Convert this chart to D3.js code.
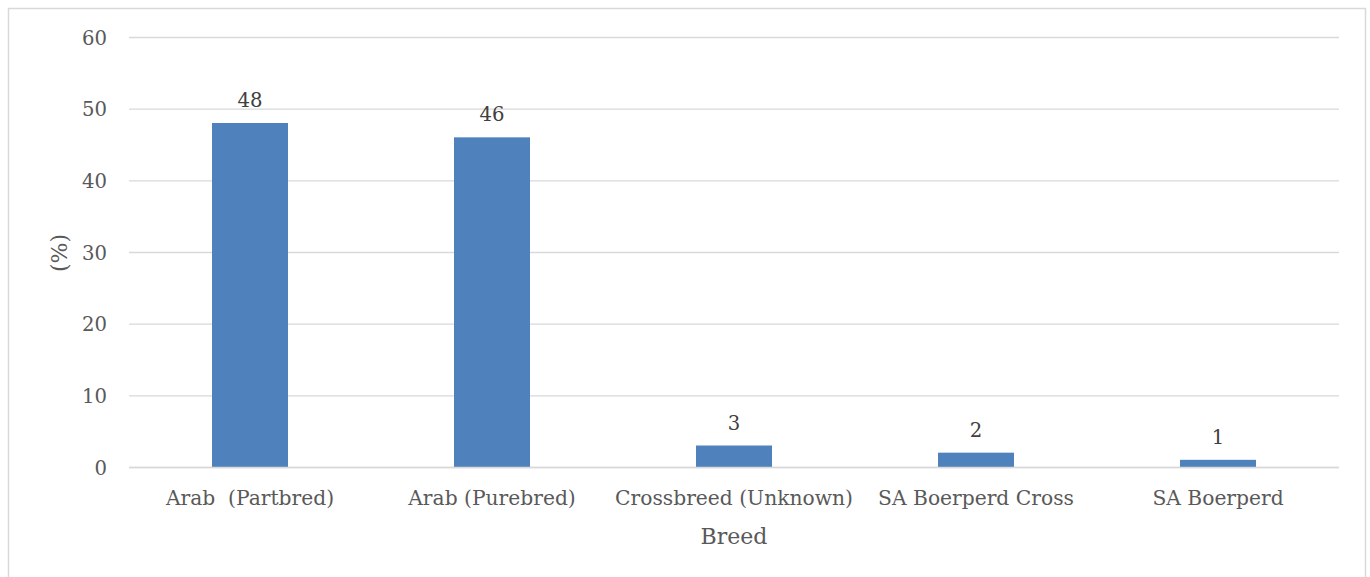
<!DOCTYPE html>
<html><head><meta charset="utf-8">
<script src="https://cdn.jsdelivr.net/npm/d3@7"></script>
<style>html,body{margin:0;padding:0;background:#fff;}svg{display:block;}</style>
</head><body>
<svg id="c" width="1370" height="577"></svg>
<script>
const categories = ["Arab  (Partbred)", "Arab (Purebred)", "Crossbreed (Unknown)", "SA Boerperd Cross", "SA Boerperd"];
const values = [48, 46, 3, 2, 1];
const yTicks = [0, 10, 20, 30, 40, 50, 60];
const xTitle = "Breed";
const yTitle = "(%)";

const W = 1370, H = 577;
const m = {left: 129, right: 1339, top: 37, bottom: 467};
const FONT = "'DejaVu Serif', 'Liberation Serif', serif";
const TXT = "#595959";
const svg = d3.select("#c");

svg.append("rect").attr("x", 8.5).attr("y", 8.5).attr("width", 1357).attr("height", 575)
  .attr("fill", "#fff").attr("stroke", "#d9d9d9").attr("stroke-width", 1.5);

const x = d3.scaleBand().domain(categories).range([m.left, m.right]).paddingInner(0.686).paddingOuter(0.343);
const y = d3.scaleLinear().domain([0, 60]).range([m.bottom, m.top]);

// fit helper: returns font size so that text has target width
function fitSize(text, target) {
  const t = svg.append("text").attr("font-family", FONT).attr("font-size", 20).text(text);
  const w = t.node().getComputedTextLength();
  t.remove();
  return 20 * target / w;
}
const catSize = fitSize("Crossbreed (Unknown)", 238);
const tickSize = fitSize("60", 25);
const valSize = fitSize("48", 25);
const titleSize = fitSize("Breed", 67);

// gridlines
const gy = svg.append("g").attr("transform", `translate(${m.left},0)`)
  .call(d3.axisLeft(y).tickValues(yTicks).tickSize(-(m.right - m.left)).tickFormat(""));
gy.select(".domain").remove();
gy.selectAll(".tick line").attr("stroke", "#d9d9d9").attr("stroke-width", 1.3);

// y tick labels
const yl = svg.append("g").attr("transform", `translate(107,0)`)
  .call(d3.axisLeft(y).tickValues(yTicks).tickSize(0).tickPadding(0));
yl.select(".domain").remove();
yl.selectAll(".tick text").attr("font-family", FONT).attr("font-size", tickSize).attr("fill", TXT).attr("dy", "0.36em");

// bars
svg.append("g").selectAll("rect").data(values).join("rect")
  .attr("x", (d, i) => x(categories[i]))
  .attr("width", x.bandwidth())
  .attr("y", d => y(d))
  .attr("height", d => y(0) - y(d))
  .attr("fill", "#4f81bd");

// axis baseline
svg.append("line").attr("x1", m.left).attr("x2", m.right).attr("y1", y(0) + 0.5).attr("y2", y(0) + 0.5)
  .attr("stroke", "#d9d9d9").attr("stroke-width", 1.5);

// value labels
svg.append("g").selectAll("text").data(values).join("text")
  .attr("x", (d, i) => x(categories[i]) + x.bandwidth() / 2)
  .attr("y", d => y(d) - 16)
  .attr("text-anchor", "middle").attr("font-family", FONT).attr("font-size", valSize).attr("fill", "#404040")
  .text(d => d);

// x axis labels
const xa = svg.append("g").attr("transform", `translate(0,${y(0)})`)
  .call(d3.axisBottom(x).tickSize(0).tickPadding(0));
xa.select(".domain").remove();
xa.selectAll(".tick text").attr("font-family", FONT).attr("font-size", catSize).attr("fill", TXT)
  .attr("dy", 0).attr("y", 38).style("white-space", "pre");

// titles
svg.append("text").attr("x", (m.left + m.right) / 2).attr("y", 544).attr("text-anchor", "middle")
  .attr("font-family", FONT).attr("font-size", titleSize).attr("fill", TXT).text(xTitle);
svg.append("text").attr("transform", `translate(67,253) rotate(-90)`).attr("text-anchor", "middle")
  .attr("font-family", FONT).attr("font-size", titleSize).attr("fill", TXT).text(yTitle);
</script>
</body></html>
